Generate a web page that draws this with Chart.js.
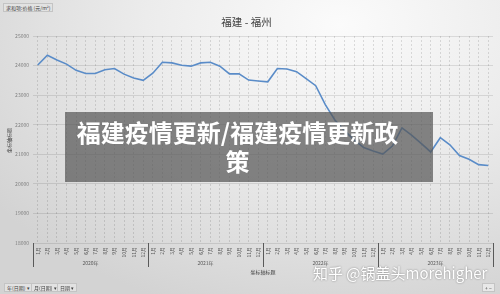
<!DOCTYPE html>
<html><head><meta charset="utf-8">
<script src="https://cdn.jsdelivr.net/npm/chart.js@4/dist/chart.umd.min.js"></script>
<style>
html,body{margin:0;padding:0;}
body{width:500px;height:294px;overflow:hidden;position:relative;
background:radial-gradient(ellipse 430px 300px at 340px 25px,#fbfbfb 0%,#ececec 45%,#d3d3d3 100%);
font-family:"Noto Sans CJK SC","Noto Sans",sans-serif;}
#c{position:absolute;left:0;top:0;}
.btn{position:absolute;font-size:5px;color:#404040;background:#e2e2e2;border:1px solid #c4c4c4;line-height:7px;padding:0 2px;white-space:nowrap;}
.ov{position:absolute;left:65px;top:112px;width:368px;height:70px;background:rgba(88,88,88,0.72);}
.ovt{position:absolute;left:65px;top:112px;width:345px;text-align:center;color:#fff;font-weight:bold;font-size:24px;line-height:29px;padding-top:5px;white-space:nowrap;}
.wm{position:absolute;left:313px;top:262px;color:#fff;font-size:15px;white-space:nowrap;text-shadow:0 0 2px rgba(0,0,0,0.45);}
</style></head>
<body>
<canvas id="c" width="500" height="294"></canvas>
<div class="btn" style="left:3px;top:3px;width:44px;">求和项:价格 (元/m²)</div>
<div class="btn" style="left:4px;top:283px;">年(日期) ▾</div>
<div class="btn" style="left:31px;top:283px;">月(日期) ▾</div>
<div class="btn" style="left:57px;top:283px;">日期 ▾</div>
<div class="btn" style="left:482px;top:283px;background:#e8e8e8;">+ −</div>
<div class="ov"></div>
<div class="ovt">福建疫情更新/福建疫情更新政<br>策</div>
<div class="wm">知乎 @锅盖头morehigher</div>
<script>
const years = ['2020年','2021年','2022年','2023年'];
const months = ['1月','2月','3月','4月','5月','6月','7月','8月','9月','10月','11月','12月'];
const yTicks = [18000,19000,20000,21000,22000,23000,24000,25000];
const prices = [
 24020,24350,24190,24050,23840,23730,23730,23860,23900,23710,23580,23500,
 23740,24110,24090,24010,23980,24090,24110,23980,23720,23720,23510,23480,
 23450,23900,23885,23795,23560,23320,22680,22160,21800,21490,21230,21110,
 21010,21280,21890,21650,21370,21080,21560,21320,20960,20830,20650,20620
];
const cats = [];
years.forEach(y=>months.forEach(m=>cats.push(y+m)));
const FONT='"Noto Sans CJK SC","Noto Sans",sans-serif';

const catLabels = {
  id:'catLabels',
  afterDraw(chart){
    const {ctx, chartArea:a, scales:{x}} = chart;
    const half = (x.getPixelForValue(1)-x.getPixelForValue(0))/2;
    ctx.save();
    ctx.fillStyle='#595959';
    ctx.font='5px '+FONT;
    cats.forEach((c,i)=>{
      const px=x.getPixelForValue(i);
      ctx.save();
      ctx.translate(px, a.bottom+4);
      ctx.rotate(-Math.PI/2);
      ctx.textAlign='right'; ctx.textBaseline='middle';
      ctx.fillText(months[i%12],0,0);
      ctx.restore();
    });
    ctx.strokeStyle='#595959'; ctx.lineWidth=1;
    for(let g=0; g<=years.length; g++){
      const px = Math.round(x.getPixelForValue(g*12)-half)+0.5;
      ctx.beginPath(); ctx.moveTo(px,a.bottom); ctx.lineTo(px,a.bottom+24); ctx.stroke();
    }
    ctx.textAlign='center'; ctx.textBaseline='middle';
    years.forEach((y,g)=>{
      const c=(x.getPixelForValue(g*12)+x.getPixelForValue(g*12+11))/2;
      ctx.fillText(y,c,a.bottom+20);
    });
    ctx.fillStyle='#404040';
    ctx.fillText('坐标轴标题',(a.left+a.right)/2,a.bottom+29);
    ctx.save();
    ctx.translate(9,(a.top+a.bottom)/2+1);
    ctx.rotate(-Math.PI/2);
    ctx.fillText('坐标轴标题',0,0);
    ctx.restore();
    ctx.restore();
  }
};

new Chart(document.getElementById('c'),{
  type:'line',
  data:{labels:cats,datasets:[{data:prices,borderColor:'#5a8cc8',borderWidth:1.6,pointRadius:0,tension:0,fill:false}]},
  options:{
    responsive:false,animation:false,devicePixelRatio:1,
    layout:{padding:{left:0,right:7,top:0,bottom:0}},
    plugins:{
      legend:{display:false},tooltip:{enabled:false},
      title:{display:true,text:'福建 - 福州',color:'#404040',font:{family:FONT,size:10.5,weight:'normal'},padding:{top:16,bottom:7.4}}
    },
    scales:{
      x:{offset:true,
         grid:{offset:false,color:'rgba(0,0,0,0.12)',drawTicks:false},
         border:{display:false,dash:[2,2]},
         ticks:{display:false},
         afterFit(s){s.width;s.height=51;}},
      y:{min:18000,max:25000,
         afterBuildTicks(s){s.ticks=yTicks.map(v=>({value:v}));},
         ticks:{color:'#7f7f7f',font:{family:FONT,size:5},padding:4,callback:v=>String(v)},
         grid:{color:'rgba(0,0,0,0.10)',drawTicks:false},
         border:{display:false},
         afterFit(s){s.width=33;}}
    }
  },
  plugins:[catLabels]
});
</script>
</body></html>
